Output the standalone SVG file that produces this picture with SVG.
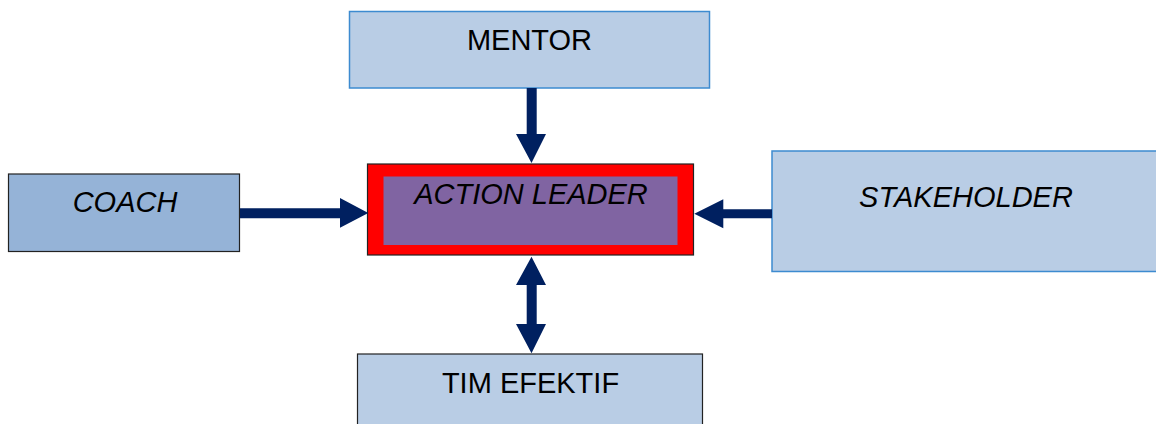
<svg xmlns="http://www.w3.org/2000/svg" width="1156" height="424" viewBox="0 0 1156 424">
<style>
.lbl{font-family:"Liberation Sans",Arial,sans-serif;font-size:29px;fill:#000;text-anchor:middle}
.it{font-style:italic}
.blue{fill:#b9cde5;stroke:#3d8bd0;stroke-width:1.5}
.dark{stroke:#222;stroke-width:1.2}
.arr{fill:#002060}
</style>
<rect width="1156" height="424" fill="#fff"/>
<g id="mentor">
<rect class="blue" x="349.5" y="11.5" width="360" height="76.5"/>
<text class="lbl" x="529.5" y="50">MENTOR</text>
</g>
<g id="coach">
<rect class="dark" fill="#95b3d7" x="8.5" y="174" width="231" height="77.5"/>
<text class="lbl it" x="125" y="211.5">COACH</text>
</g>
<g id="action-leader">
<rect class="dark" fill="#ff0000" x="367.5" y="164" width="326" height="91"/>
<rect fill="#8064a2" x="383.5" y="176.5" width="294" height="68.5"/>
<text class="lbl it" x="531" y="204">ACTION LEADER</text>
</g>
<g id="stakeholder">
<rect class="blue" x="772" y="151" width="390" height="120.5"/>
<text class="lbl it" x="966" y="206.5">STAKEHOLDER</text>
</g>
<g id="tim-efektif">
<rect class="dark" fill="#b9cde5" x="357.5" y="354" width="345" height="80"/>
<text class="lbl" x="530.5" y="392.5">TIM EFEKTIF</text>
</g>
<g id="connectors">
<polygon class="arr" points="526.7,88 536.7,88 536.7,134 546,134 531.5,163 516,134 526.7,134"/>
<polygon class="arr" points="240,208.3 340,208.3 340,198 368.3,213 340,227.8 340,218.3 240,218.3"/>
<polygon class="arr" points="772,209.3 723.3,209.3 723.3,199.3 694.3,213.8 723.3,228.3 723.3,218.3 772,218.3"/>
<polygon class="arr" points="531.5,256.7 546,285 536.7,285 536.7,324 546,324 531.5,353.3 516,324 526.7,324 526.7,285 516,285"/>
</g>
</svg>
